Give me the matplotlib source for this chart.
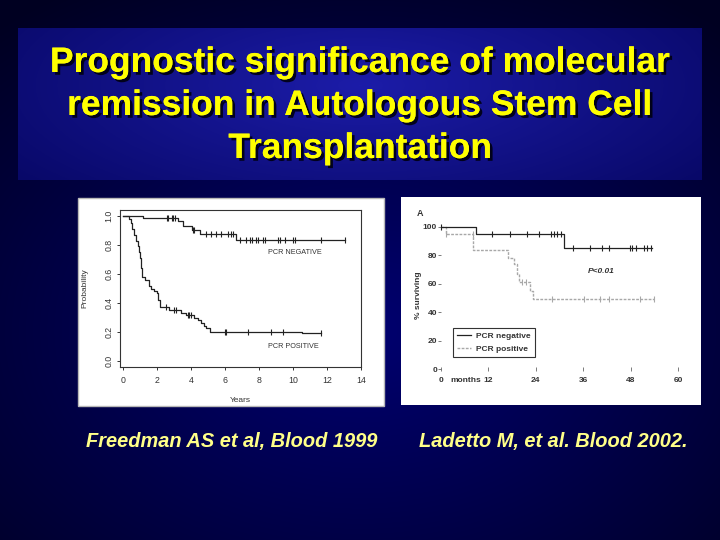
import numpy as np
import matplotlib
matplotlib.use('Agg')
import matplotlib.pyplot as plt
from matplotlib import patheffects
from matplotlib.patches import Rectangle

plt.rcParams['font.family'] = ['Liberation Sans', 'DejaVu Sans']

# --- slide text ---
title_lines = ["Prognostic significance of molecular",
               "remission in Autologous Stem Cell",
               "Transplantation"]
caption_left = "Freedman AS et al, Blood 1999"
caption_right = "Ladetto M, et al. Blood 2002."

# --- Freedman 1999, years vs probability ---
fr_neg_years = [0, 1.2, 3.25, 3.55, 4.04, 4.53, 6.67]
fr_neg_prob = [1.0, 0.984, 0.966, 0.933, 0.903, 0.874, 0.837]
fr_neg_end = 13.08
fr_neg_censor = [2.57, 2.67, 2.86, 2.96, 3.06, 4.1, 4.2, 4.9, 5.2, 5.49, 5.78,
                 6.18, 6.34, 6.47, 6.87, 7.26, 7.46, 7.59, 7.85, 7.95, 8.24,
                 8.34, 9.12, 9.22, 9.52, 10.0, 10.1, 11.65, 13.08]
fr_pos_years = [0, 0.35, 0.45, 0.55, 0.65, 0.75, 0.85, 0.92, 1.0, 1.06, 1.14,
                1.3, 1.5, 1.65, 1.8, 2.0, 2.08, 2.2, 2.7, 3.4, 3.7, 4.2, 4.4,
                4.6, 4.75, 4.9, 5.1, 10.5]
fr_pos_prob = [1.0, 0.98, 0.95, 0.91, 0.87, 0.83, 0.79, 0.75, 0.71, 0.64, 0.58,
               0.56, 0.52, 0.50, 0.48, 0.47, 0.42, 0.375, 0.35, 0.33, 0.32,
               0.30, 0.28, 0.26, 0.24, 0.225, 0.20, 0.19]
fr_pos_end = 11.65
fr_pos_censor = [2.5, 3.0, 3.1, 3.8, 3.9, 4.0, 6.0, 6.05, 7.35, 8.7, 9.4, 11.65]

# --- Ladetto 2002, months vs % surviving ---
la_neg_months = [0, 8.9, 31.2]
la_neg_pct = [100, 94.9, 85.5]
la_neg_end = 53.3
la_neg_censor = [0, 13.0, 17.5, 21.7, 24.9, 27.8, 28.6, 29.4, 30.3, 33.4, 37.8,
                 40.8, 42.4, 47.8, 48.3, 49.3, 51.3, 52.2, 53.2]
la_pos_months = [0, 1.2, 8.2, 17.0, 18.4, 19.2, 19.8, 22.5, 23.2]
la_pos_pct = [100, 95, 83.5, 78, 74, 67, 61, 55, 49.3]
la_pos_end = 53.8
la_pos_censor = [1.2, 8.0, 20.6, 21.4, 28.1, 36.3, 40.2, 42.4, 50.3, 53.8]


def step_at(times, vals, c):
    return [vals[np.searchsorted(times, x, side='right') - 1] for x in c]


def km(ax, times, vals, end, censor, color, ms, **kw):
    ax.step(list(times) + [end], list(vals) + [vals[-1]], where='post',
            color=color, clip_on=False, **kw)
    ax.plot(censor, step_at(times, vals, censor), ls='none', marker='|',
            ms=ms, mew=0.8, color=color, clip_on=False)


def frac(x0, y0, x1, y1):
    # pixel box (top-left origin) -> figure fraction
    return [x0 / 720, 1 - y1 / 540, (x1 - x0) / 720, (y1 - y0) / 540]


fig = plt.figure(figsize=(7.2, 5.4), dpi=100)

# background
bg = fig.add_axes([0, 0, 1, 1])
bg.set_xlim(0, 720)
bg.set_ylim(540, 0)
bg.axis('off')
yy, xx = np.mgrid[0:540, 0:720]
r = np.clip(np.sqrt(((xx - 360) / 560.0) ** 2 + ((yy - 330) / 400.0) ** 2), 0, 1)
inner = np.array([0.0, 0.0, 0.44])
outer = np.array([0.0, 0.0, 0.13])
img = (1 - r)[..., None] * inner + r[..., None] * outer
bg.imshow(img, extent=(0, 720, 540, 0), aspect='auto', zorder=0)

ty, tx = np.mgrid[28:180, 18:702]
r2 = np.clip(np.sqrt(((tx - 360) / 440.0) ** 2 + ((ty - 85) / 160.0) ** 2), 0, 1)
tin = np.array([0.11, 0.11, 0.66])
tout = np.array([0.03, 0.03, 0.40])
timg = (1 - r2)[..., None] * tin + r2[..., None] * tout
bg.imshow(timg, extent=(18, 702, 180, 28), aspect='auto', zorder=1)

shadow = [patheffects.withSimplePatchShadow(offset=(2, -2), shadow_rgbFace='#000010', alpha=0.9),
          patheffects.Normal()]
for line, base in zip(title_lines, [72, 115, 158]):
    bg.text(360, base, line, ha='center', va='baseline', color='#ffff00',
            fontsize=25.5, fontweight='bold', path_effects=shadow, zorder=3)

bg.text(232, 447, caption_left, ha='center', va='baseline', color='#ffff88',
        fontsize=14.4, fontweight='bold', style='italic', zorder=3)
bg.text(553, 447, caption_right, ha='center', va='baseline', color='#ffff88',
        fontsize=14.4, fontweight='bold', style='italic', zorder=3)

bg.add_patch(Rectangle((78, 198), 306, 208, facecolor='white', edgecolor='#b8b8b8', lw=1, zorder=2))
bg.add_patch(Rectangle((401, 197), 300, 208, facecolor='white', edgecolor='none', zorder=2))

# left chart: Freedman
ink = '#333333'
ax1 = fig.add_axes(frac(120, 210, 361, 367))
ax1.set_facecolor('none')
ax1.set_xlim(-0.18, 14.0)
ax1.set_ylim(-0.041, 1.041)
km(ax1, fr_neg_years, fr_neg_prob, fr_neg_end, fr_neg_censor, '#222222', 4.5, lw=0.9)
km(ax1, fr_pos_years, fr_pos_prob, fr_pos_end, fr_pos_censor, '#222222', 4.5, lw=0.9)
ax1.set_xticks([0, 2, 4, 6, 8, 10, 12, 14])
ax1.set_yticks([0.0, 0.2, 0.4, 0.6, 0.8, 1.0])
ax1.set_yticklabels(['0.0', '0.2', '0.4', '0.6', '0.8', '1.0'], rotation=90, va='center')
ax1.tick_params(length=2.5, width=0.7, color=ink, labelcolor=ink, labelsize=6.3)
ax1.tick_params(axis='x', pad=4)
ax1.tick_params(axis='y', pad=2)
for s in ax1.spines.values():
    s.set_color(ink)
    s.set_linewidth(0.8)
ax1.set_ylabel('Probability', fontsize=6, color=ink)
ax1.yaxis.set_label_coords(-0.13, 0.5)
ax1.set_xlabel('Years', fontsize=6, color=ink)
ax1.xaxis.set_label_coords(0.5, -0.19)
ax1.text(10.1, 0.745, 'PCR NEGATIVE', ha='center', va='center', fontsize=5.2, color=ink)
ax1.text(10.0, 0.103, 'PCR POSITIVE', ha='center', va='center', fontsize=5.2, color=ink)

# right chart: Ladetto
ax2 = fig.add_axes(frac(441, 215, 690, 369))
ax2.set_facecolor('none')
ax2.set_xlim(0, 63.0)
ax2.set_ylim(0, 108.4)
for s in ax2.spines.values():
    s.set_visible(False)
km(ax2, la_pos_months, la_pos_pct, la_pos_end, la_pos_censor, '#a8a8a8', 5,
   lw=1.0, ls=(0, (2, 1)), label='PCR positive')
km(ax2, la_neg_months, la_neg_pct, la_neg_end, la_neg_censor, '#222222', 5,
   lw=0.9, label='PCR negative')
ax2.set_xticks([0, 12, 24, 36, 48, 60])
ax2.set_yticks([0, 20, 40, 60, 80, 100])
ax2.tick_params(axis='x', direction='inout', length=3.5, width=0.6, pad=4,
                color='#666666', labelcolor=ink, labelsize=6)
ax2.tick_params(axis='y', direction='out', length=2, width=0.6, pad=0.8,
                color='#666666', labelcolor=ink, labelsize=6)
for lab in ax2.get_xticklabels() + ax2.get_yticklabels():
    lab.set_fontweight('bold')
ax2.set_ylabel('% surviving', fontsize=6, color=ink, fontweight='bold')
ax2.yaxis.set_label_coords(-0.078, 0.48)
ax2.text(6.3, -8.2, 'months', ha='center', va='center', fontsize=6,
         fontweight='bold', color=ink)
ax2.text(-5.2, 109.5, 'A', ha='center', va='center', fontsize=6.5,
         fontweight='bold', color=ink)
ax2.text(40.5, 68.5, 'P<0.01', ha='center', va='center', fontsize=6,
         fontweight='bold', style='italic', color=ink)
h, l = ax2.get_legend_handles_labels()
leg = ax2.legend(h[::-1], l[::-1], loc='upper left',
                 bbox_to_anchor=((452.7 - 441) / 249, (369 - 327.7) / 154),
                 fontsize=6, handlelength=1.7, handletextpad=0.5,
                 borderpad=0.55, labelspacing=0.55, fancybox=False,
                 edgecolor='#333333', framealpha=1, borderaxespad=0)
leg.get_frame().set_linewidth(0.8)
for t in leg.get_texts():
    t.set_fontweight('bold')
    t.set_color(ink)

fig.savefig('out.png', dpi=100)
